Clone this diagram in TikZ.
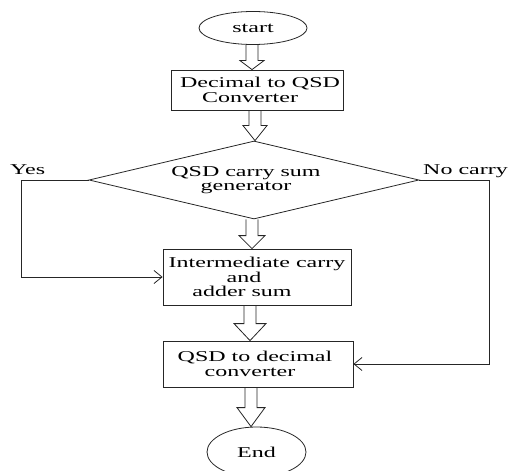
\documentclass[tikz,border=0pt]{standalone}
\usepackage{fontspec}
\setmainfont{Liberation Serif}[FakeStretch=1.6]
\usetikzlibrary{shapes.geometric,arrows.meta,calc}
\tikzset{
  txt/.style={font=\fontsize{15}{14.5}\selectfont, text=black, align=center, inner sep=0pt},
  procbox/.style={txt, draw=black!85, line width=0.8pt, rectangle},
  term/.style={txt, draw=black!85, line width=0.8pt, ellipse},
  decide/.style={txt, draw=black!85, line width=0.8pt, diamond, shape aspect=4.23},
  hollow/.style={draw=black!85, line width=0.8pt, line join=miter},
  barb/.style={draw=black!85, line width=0.8pt, -{Straight Barb[length=8pt,width=13pt]}},
}
\newcommand\harrow[5]{%
  \draw[hollow] let \p1=($(#1.south)+(#3,0)$), \p2=(#2.north) in
    (\x1-6pt,\y1) -- (\x1-6pt,\y2+#5pt) -- (\x1-#4pt,\y2+#5pt) -- (\x1,\y2)
    -- (\x1+#4pt,\y2+#5pt) -- (\x1+6pt,\y2+#5pt) -- (\x1+6pt,\y1);}
\begin{document}
\begin{tikzpicture}[x=1pt,y=-1pt]
\useasboundingbox (0,0) rectangle (510,470);
\node[term, minimum width=108pt, minimum height=33pt] (start) at (253,28) {start};
\node[procbox, minimum width=172pt, minimum height=40pt] (conv) at (257,90)
  {\hspace*{6pt}Decimal to QSD\\\hspace*{-14pt}Converter};
\node[decide, minimum width=330pt, minimum height=78pt] (gen) at (254,180)
  {\hspace*{-16pt}QSD carry sum\\\hspace*{-16pt}generator};
\node[procbox, minimum width=188pt, minimum height=56pt] (inter) at (257,277)
  {Intermediate carry\\\hspace*{-26pt}and\\\hspace*{-30pt}adder sum};
\node[procbox, minimum width=190pt, minimum height=46pt] (dec) at (258,364)
  {\hspace*{-6pt}QSD to decimal\\\hspace*{-16pt}converter};
\node[term, minimum width=99pt, minimum height=50pt] (end) at (256.5,452) {End};
\node[txt, anchor=base west] (yes) at (10,175) {Yes};
\node[txt, anchor=base west] (no) at (423,175) {No carry};
\coordinate (yc) at (21,180);
\coordinate (nc) at (489,180);
\harrow{start}{conv}{-1}{12}{9}
\harrow{conv}{gen}{-2}{12}{15}
\harrow{gen}{inter}{-2}{13}{13}
\harrow{inter}{dec}{-7}{16}{17}
\harrow{dec}{end}{-7}{14}{19}
\draw[barb] (gen.west) -- (yc) |- (inter.west);
\draw[barb] (gen.east) -- (nc) |- (dec.east);
\end{tikzpicture}
\end{document}
